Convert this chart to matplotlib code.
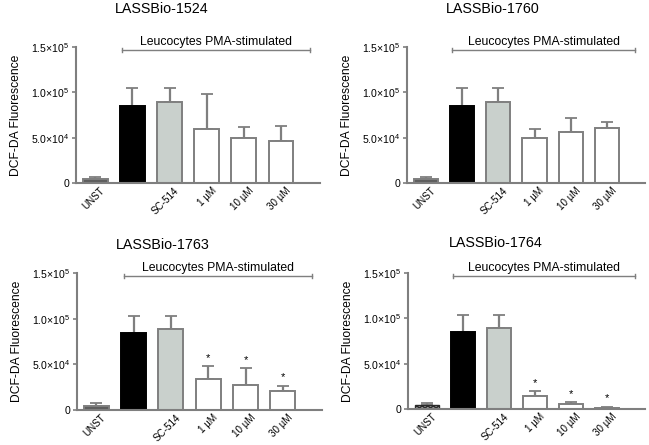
import matplotlib
matplotlib.use("Agg")
import matplotlib.pyplot as plt
import numpy as np

plt.rcParams['font.family'] = ['Liberation Sans', 'DejaVu Sans']
plt.rcParams['mathtext.fontset'] = 'custom'
plt.rcParams['mathtext.rm'] = 'Liberation Sans'
plt.rcParams['mathtext.it'] = 'Liberation Sans'

titles = ["LASSBio-1524", "LASSBio-1760", "LASSBio-1763", "LASSBio-1764"]
categories = ["UNST", "", "SC-514", "1 \u00b5M", "10 \u00b5M", "30 \u00b5M"]
bracket_label = "Leucocytes PMA-stimulated"
ylabel = "DCF-DA Fluorescence"
yticks = [0, 50000, 100000, 150000]
ytick_labels = ["0", "5.0\u00d710$^{4}$", "1.0\u00d710$^{5}$", "1.5\u00d710$^{5}$"]

means_1524 = [4400, 85300, 89000, 59200, 49300, 46000]
err_1524 = [2600, 19100, 15400, 38600, 12800, 17200]
means_1760 = [4400, 85300, 89000, 49300, 56600, 60300]
err_1760 = [2600, 19100, 15400, 9900, 14700, 7300]
means_1763 = [4400, 84700, 88700, 33600, 27400, 21200]
err_1763 = [2900, 18600, 14600, 14200, 18200, 5100]
means_1764 = [4400, 85100, 89100, 14300, 5100, 1500]
err_1764 = [2500, 19100, 15100, 5200, 2200, 500]

stars_1763 = [False, False, False, True, True, True]
stars_1764 = [False, False, False, True, True, True]
stars_none = [False] * 6

panels = [
    (titles[0], means_1524, err_1524, stars_none, False),
    (titles[1], means_1760, err_1760, stars_none, False),
    (titles[2], means_1763, err_1763, stars_1763, False),
    (titles[3], means_1764, err_1764, stars_1764, True),
]

W, H = 649, 445
fig = plt.figure(figsize=(W / 100, H / 100), dpi=100)

# axes rectangles in pixels: left, top, right, bottom
rects = [(76, 47, 320, 183), (407, 47, 645, 183), (77, 273, 322, 410), (408, 273, 645, 409)]
title_x = [0.35, 0.36, 0.35, 0.37]
title_dy = [38, 38, 28, 30]

gray = "#7f7f7f"
fills = ["#5e5e5e", "black", "#c9d0cc", "white", "white", "white"]
edges = [gray, "black", gray, gray, gray, gray]

for (title, means, errs, stars, hatched), (l, t, r, b), tx, tdy in zip(panels, rects, title_x, title_dy):
    ax = fig.add_axes([l / W, 1 - b / H, (r - l) / W, (b - t) / H])
    x = np.arange(len(categories))
    bars = ax.bar(x, means, width=0.67, color=fills, edgecolor=edges, linewidth=1.4, zorder=2)
    if hatched:
        bars[0].set_hatch('xxxxxx')
        bars[0].set_facecolor('#9a9a9a')
        bars[0].set_edgecolor('#2a2a2a')
        bars[0].set_linewidth(1.0)
    ax.errorbar(x, means, yerr=[np.zeros(len(errs)), errs], fmt='none', ecolor=gray,
                elinewidth=1.6, capsize=4, capthick=1.3, zorder=1)
    for xi, m, e, s in zip(x, means, errs, stars):
        if s:
            ax.text(xi, m + e + 4000, "*", ha='center', va='bottom', fontsize=8)
    ax.set_xlim(-0.52, 6.05)
    ax.set_ylim(0, 150000)
    ax.set_yticks(yticks)
    ax.set_yticklabels(ytick_labels, fontsize=7.6)
    ax.set_xticks(x + 0.12)
    ax.set_xticklabels(categories, rotation=45, ha='right', rotation_mode='anchor', fontsize=7.1)
    ax.tick_params(axis='x', length=0, pad=2)
    ax.tick_params(axis='y', length=3, width=1.2, color=gray, pad=2)
    for sp in ['top', 'right']:
        ax.spines[sp].set_visible(False)
    for sp in ['left', 'bottom']:
        ax.spines[sp].set_color(gray)
        ax.spines[sp].set_linewidth(1.5)
    ax.set_ylabel(ylabel, fontsize=8.7, labelpad=6)
    # bracket
    bx0, bx1, by = 0.73, 5.78, 146700
    ax.plot([bx0, bx1], [by, by], color=gray, lw=1.0, clip_on=False)
    ax.plot([bx0, bx0], [by - 2500, by + 2500], color=gray, lw=1.0, clip_on=False)
    ax.plot([bx1, bx1], [by - 2500, by + 2500], color=gray, lw=1.0, clip_on=False)
    ax.text((bx0 + bx1) / 2, by + 2000, bracket_label, ha='center', va='bottom', fontsize=8.8, clip_on=False)
    ax.text(tx, 1.0 + tdy / (b - t), title, transform=ax.transAxes, ha='center', va='center', fontsize=10.3)

fig.savefig("out.png", dpi=100)
